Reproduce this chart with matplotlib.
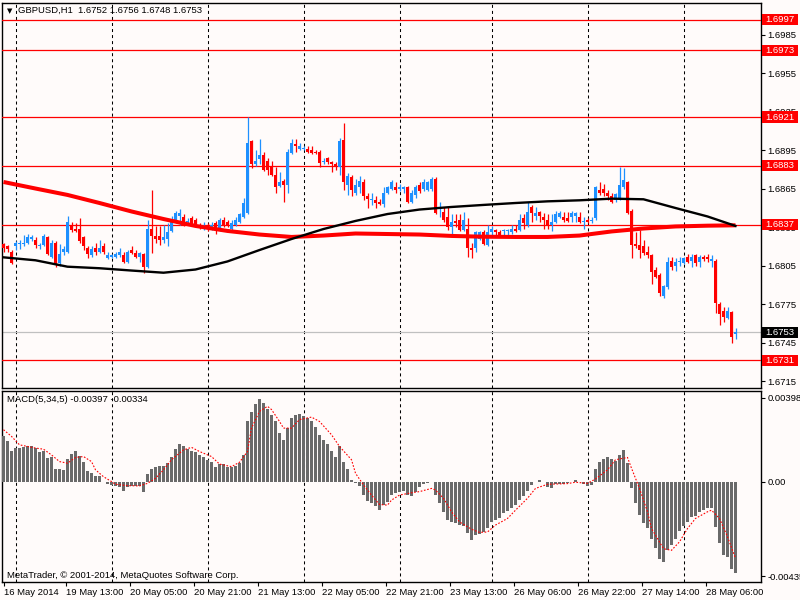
import matplotlib
matplotlib.use('Agg')
import matplotlib.pyplot as plt
from matplotlib.patches import Rectangle
from matplotlib.transforms import blended_transform_factory
import numpy as np

plt.rcParams['font.family'] = ['Liberation Sans', 'DejaVu Sans']

# GBPUSD H1 candles, one per hour (bar index 0 = 16 May 2014)
opens = [
    1.6822, 1.6820, 1.6816, 1.6820, 1.6822, 1.6822, 1.6823, 1.6826, 1.6825, 1.6820,
    1.6821, 1.6827, 1.6812, 1.6823, 1.6807, 1.6816, 1.6816, 1.6837, 1.6834, 1.6834,
    1.6827, 1.6819, 1.6813, 1.6819, 1.6816, 1.6820, 1.6811, 1.6812, 1.6812, 1.6813,
    1.6813, 1.6808, 1.6817, 1.6815, 1.6812, 1.6814, 1.6804, 1.6834, 1.6828, 1.6828,
    1.6825, 1.6826, 1.6832, 1.6839, 1.6844, 1.6843, 1.6839, 1.6842, 1.6841, 1.6837,
    1.6834, 1.6837, 1.6834, 1.6838, 1.6833, 1.6841, 1.6839, 1.6834, 1.6837, 1.6839,
    1.6843, 1.6846, 1.6902, 1.6884, 1.6888, 1.6891, 1.6887, 1.6883, 1.6876, 1.6867,
    1.6871, 1.6868, 1.6893, 1.6900, 1.6896, 1.6896, 1.6896, 1.6895, 1.6894, 1.6894,
    1.6886, 1.6889, 1.6886, 1.6884, 1.6882, 1.6903, 1.6868, 1.6874, 1.6862, 1.6866,
    1.6870, 1.6859, 1.6856, 1.6856, 1.6855, 1.6853, 1.6862, 1.6865, 1.6866, 1.6865,
    1.6865, 1.6866, 1.6855, 1.6860, 1.6868, 1.6865, 1.6864, 1.6865, 1.6873, 1.6849,
    1.6847, 1.6843, 1.6835, 1.6840, 1.6841, 1.6833, 1.6834, 1.6819, 1.6819, 1.6826,
    1.6831, 1.6821, 1.6831, 1.6833, 1.6831, 1.6832, 1.6832, 1.6831, 1.6834, 1.6833,
    1.6842, 1.6837, 1.6851, 1.6844, 1.6847, 1.6843, 1.6841, 1.6837, 1.6839, 1.6843,
    1.6843, 1.6842, 1.6843, 1.6844, 1.6843, 1.6839, 1.6841, 1.6840, 1.6842, 1.6864,
    1.6865, 1.6862, 1.6859, 1.6856, 1.6857, 1.6866, 1.6870, 1.6848, 1.6822, 1.6821,
    1.6820, 1.6816, 1.6813, 1.6802, 1.6798, 1.6781, 1.6788, 1.6809, 1.6805, 1.6808,
    1.6807, 1.6812, 1.6809, 1.6813, 1.6808, 1.6812, 1.6812, 1.6809, 1.6809, 1.6775,
    1.6770, 1.6764, 1.6769, 1.6752,
]
highs = [
    1.6823, 1.6821, 1.6817, 1.6824, 1.6825, 1.6829, 1.6830, 1.6829, 1.6827, 1.6823,
    1.6830, 1.6828, 1.6825, 1.6824, 1.6822, 1.6820, 1.6844, 1.6839, 1.6838, 1.6842,
    1.6828, 1.6820, 1.6820, 1.6823, 1.6825, 1.6823, 1.6816, 1.6814, 1.6816, 1.6819,
    1.6816, 1.6817, 1.6820, 1.6817, 1.6816, 1.6815, 1.6841, 1.6864, 1.6836, 1.6836,
    1.6837, 1.6838, 1.6844, 1.6848, 1.6849, 1.6845, 1.6842, 1.6844, 1.6842, 1.6838,
    1.6839, 1.6838, 1.6839, 1.6840, 1.6842, 1.6843, 1.6841, 1.6841, 1.6843, 1.6846,
    1.6858, 1.6921, 1.6903, 1.6895, 1.6904, 1.6894, 1.6889, 1.6887, 1.6882, 1.6878,
    1.6873, 1.6896, 1.6904, 1.6904, 1.6901, 1.6898, 1.6898, 1.6898, 1.6895, 1.6895,
    1.6889, 1.6890, 1.6887, 1.6886, 1.6905, 1.6916, 1.6877, 1.6876, 1.6873, 1.6875,
    1.6873, 1.6862, 1.6862, 1.6859, 1.6857, 1.6866, 1.6867, 1.6872, 1.6870, 1.6869,
    1.6867, 1.6867, 1.6864, 1.6868, 1.6870, 1.6873, 1.6871, 1.6874, 1.6874, 1.6855,
    1.6851, 1.6851, 1.6845, 1.6845, 1.6845, 1.6847, 1.6842, 1.6823, 1.6832, 1.6832,
    1.6833, 1.6837, 1.6836, 1.6834, 1.6833, 1.6834, 1.6834, 1.6837, 1.6837, 1.6845,
    1.6845, 1.6855, 1.6852, 1.6851, 1.6848, 1.6846, 1.6845, 1.6845, 1.6848, 1.6848,
    1.6847, 1.6847, 1.6848, 1.6847, 1.6847, 1.6843, 1.6842, 1.6843, 1.6867, 1.6870,
    1.6869, 1.6864, 1.6862, 1.6862, 1.6882, 1.6881, 1.6871, 1.6849, 1.6831, 1.6833,
    1.6825, 1.6820, 1.6814, 1.6804, 1.6799, 1.6790, 1.6812, 1.6812, 1.6811, 1.6812,
    1.6812, 1.6814, 1.6814, 1.6814, 1.6813, 1.6813, 1.6814, 1.6813, 1.6810, 1.6777,
    1.6773, 1.6773, 1.6770, 1.6756,
]
lows = [
    1.6816, 1.6816, 1.6806, 1.6817, 1.6818, 1.6820, 1.6822, 1.6824, 1.6819, 1.6818,
    1.6820, 1.6813, 1.6811, 1.6804, 1.6805, 1.6813, 1.6815, 1.6831, 1.6831, 1.6823,
    1.6817, 1.6811, 1.6812, 1.6813, 1.6815, 1.6814, 1.6810, 1.6811, 1.6811, 1.6812,
    1.6807, 1.6807, 1.6814, 1.6811, 1.6808, 1.6799, 1.6803, 1.6815, 1.6823, 1.6821,
    1.6823, 1.6820, 1.6831, 1.6838, 1.6837, 1.6836, 1.6837, 1.6836, 1.6835, 1.6834,
    1.6833, 1.6832, 1.6833, 1.6830, 1.6832, 1.6835, 1.6835, 1.6833, 1.6836, 1.6838,
    1.6842, 1.6845, 1.6881, 1.6883, 1.6884, 1.6879, 1.6876, 1.6875, 1.6862, 1.6866,
    1.6855, 1.6862, 1.6892, 1.6894, 1.6895, 1.6895, 1.6893, 1.6892, 1.6892, 1.6882,
    1.6884, 1.6884, 1.6878, 1.6880, 1.6876, 1.6864, 1.6860, 1.6859, 1.6860, 1.6862,
    1.6856, 1.6850, 1.6852, 1.6850, 1.6852, 1.6851, 1.6861, 1.6864, 1.6862, 1.6863,
    1.6862, 1.6854, 1.6854, 1.6858, 1.6862, 1.6863, 1.6863, 1.6863, 1.6845, 1.6843,
    1.6839, 1.6833, 1.6827, 1.6835, 1.6832, 1.6832, 1.6812, 1.6811, 1.6816, 1.6825,
    1.6821, 1.6820, 1.6829, 1.6829, 1.6827, 1.6829, 1.6829, 1.6830, 1.6831, 1.6832,
    1.6834, 1.6835, 1.6839, 1.6841, 1.6839, 1.6834, 1.6834, 1.6832, 1.6838, 1.6842,
    1.6839, 1.6839, 1.6839, 1.6839, 1.6838, 1.6834, 1.6838, 1.6838, 1.6841, 1.6860,
    1.6859, 1.6856, 1.6854, 1.6855, 1.6856, 1.6865, 1.6845, 1.6811, 1.6819, 1.6811,
    1.6813, 1.6811, 1.6791, 1.6795, 1.6781, 1.6780, 1.6787, 1.6802, 1.6801, 1.6805,
    1.6806, 1.6807, 1.6804, 1.6805, 1.6804, 1.6809, 1.6808, 1.6804, 1.6768, 1.6759,
    1.6761, 1.6763, 1.6745, 1.6748,
]
closes = [
    1.6819, 1.6818, 1.6807, 1.6823, 1.6823, 1.6823, 1.6827, 1.6827, 1.6821, 1.6821,
    1.6828, 1.6814, 1.6823, 1.6806, 1.6814, 1.6818, 1.6839, 1.6833, 1.6832, 1.6824,
    1.6820, 1.6814, 1.6818, 1.6816, 1.6819, 1.6816, 1.6813, 1.6813, 1.6814, 1.6816,
    1.6808, 1.6816, 1.6815, 1.6812, 1.6815, 1.6804, 1.6834, 1.6828, 1.6826, 1.6825,
    1.6827, 1.6831, 1.6841, 1.6846, 1.6846, 1.6837, 1.6840, 1.6837, 1.6837, 1.6835,
    1.6837, 1.6834, 1.6837, 1.6834, 1.6841, 1.6836, 1.6837, 1.6838, 1.6841, 1.6845,
    1.6854, 1.6901, 1.6884, 1.6887, 1.6891, 1.6880, 1.6880, 1.6876, 1.6866, 1.6870,
    1.6868, 1.6894, 1.6901, 1.6898, 1.6898, 1.6897, 1.6894, 1.6893, 1.6893, 1.6885,
    1.6887, 1.6886, 1.6884, 1.6882, 1.6902, 1.6870, 1.6875, 1.6864, 1.6868, 1.6871,
    1.6859, 1.6857, 1.6857, 1.6854, 1.6853, 1.6862, 1.6866, 1.6870, 1.6864, 1.6866,
    1.6866, 1.6855, 1.6862, 1.6866, 1.6863, 1.6870, 1.6870, 1.6873, 1.6846, 1.6850,
    1.6841, 1.6835, 1.6839, 1.6838, 1.6833, 1.6841, 1.6819, 1.6817, 1.6831, 1.6831,
    1.6822, 1.6831, 1.6834, 1.6831, 1.6828, 1.6833, 1.6833, 1.6834, 1.6832, 1.6841,
    1.6838, 1.6847, 1.6846, 1.6846, 1.6844, 1.6841, 1.6837, 1.6839, 1.6845, 1.6846,
    1.6841, 1.6840, 1.6846, 1.6846, 1.6839, 1.6840, 1.6839, 1.6841, 1.6866, 1.6862,
    1.6862, 1.6859, 1.6855, 1.6861, 1.6868, 1.6872, 1.6846, 1.6821, 1.6820, 1.6817,
    1.6815, 1.6813, 1.6800, 1.6796, 1.6784, 1.6789, 1.6808, 1.6804, 1.6808, 1.6809,
    1.6811, 1.6808, 1.6812, 1.6807, 1.6812, 1.6810, 1.6810, 1.6810, 1.6776, 1.6767,
    1.6765, 1.6770, 1.6749, 1.6753,
]

# moving averages read every 8 bars
ma_bars = [0, 8, 16, 24, 32, 40, 48, 56, 64, 72, 80, 88, 96, 104, 112, 120,
           128, 136, 144, 152, 160, 168, 176, 183]
ma_red = [1.68703, 1.68652, 1.68602, 1.68539, 1.68473, 1.68414, 1.68360, 1.68321,
          1.68293, 1.68274, 1.68285, 1.68301, 1.68297, 1.68293, 1.68282, 1.68276,
          1.68274, 1.68274, 1.68285, 1.68317, 1.68340, 1.68356, 1.68362, 1.68365]
ma_black = [1.68115, 1.68092, 1.68042, 1.68030, 1.68012, 1.67995, 1.68020, 1.68083,
            1.68172, 1.68258, 1.68336, 1.68399, 1.68453, 1.68488, 1.68508, 1.68524,
            1.68539, 1.68552, 1.68560, 1.68573, 1.68568, 1.68500, 1.68434, 1.68360]

levels = [1.6997, 1.6973, 1.6921, 1.6883, 1.6837, 1.6731]
bid = 1.6753
price_ticks = [1.6985, 1.6955, 1.6925, 1.6895, 1.6865, 1.6835, 1.6805, 1.6775, 1.6745, 1.6715]

# MACD(5,34,5) histogram and signal
macd = [
    0.00198, 0.00176, 0.00132, 0.00147, 0.00147, 0.00151, 0.00157, 0.00157, 0.00147, 0.00128,
    0.00136, 0.00103, 0.00106, 0.00056, 0.00056, 0.00052, 0.00100, 0.00122, 0.00132, 0.00113,
    0.00088, 0.00047, 0.00037, 0.00027, 0.00027, 0.00001, -0.00011, -0.00014, -0.00018, -0.00021,
    -0.00039, -0.00021, -0.00018, -0.00018, -0.00018, -0.00043, 0.00033, 0.00056, 0.00063, 0.00069,
    0.00069, 0.00081, 0.00110, 0.00144, 0.00166, 0.00154, 0.00144, 0.00136, 0.00128, 0.00115,
    0.00106, 0.00096, 0.00085, 0.00066, 0.00077, 0.00077, 0.00066, 0.00063, 0.00069, 0.00081,
    0.00117, 0.00264, 0.00303, 0.00340, 0.00359, 0.00344, 0.00319, 0.00293, 0.00266, 0.00212,
    0.00183, 0.00234, 0.00278, 0.00293, 0.00296, 0.00285, 0.00278, 0.00264, 0.00239, 0.00205,
    0.00183, 0.00164, 0.00135, 0.00110, 0.00154, 0.00085, 0.00056, 0.00008, -0.00007, -0.00018,
    -0.00058, -0.00084, -0.00094, -0.00105, -0.00124, -0.00102, -0.00087, -0.00058, -0.00051, -0.00043,
    -0.00040, -0.00058, -0.00061, -0.00043, -0.00021, -0.00011, -0.00007, 0.00001, -0.00058, -0.00094,
    -0.00131, -0.00167, -0.00175, -0.00178, -0.00189, -0.00194, -0.00223, -0.00255, -0.00233, -0.00229,
    -0.00219, -0.00201, -0.00175, -0.00165, -0.00157, -0.00138, -0.00128, -0.00113, -0.00102, -0.00080,
    -0.00062, -0.00040, -0.00014, 0.00001, 0.00008, -0.00002, -0.00021, -0.00026, -0.00011, -0.00010,
    -0.00008, -0.00004, 0.00001, 0.00006, -0.00002, -0.00010, -0.00017, -0.00014, 0.00056, 0.00085,
    0.00100, 0.00106, 0.00100, 0.00091, 0.00117, 0.00139, 0.00081, -0.00026, -0.00094, -0.00146,
    -0.00179, -0.00201, -0.00251, -0.00287, -0.00338, -0.00350, -0.00299, -0.00274, -0.00251, -0.00216,
    -0.00192, -0.00175, -0.00153, -0.00148, -0.00134, -0.00124, -0.00116, -0.00116, -0.00197, -0.00267,
    -0.00321, -0.00328, -0.00379, -0.00397,
]
sig_bars = [0, 2, 4, 8, 10, 12, 14, 16, 18, 20, 22, 23, 25, 27, 28, 31, 34, 36, 38, 40,
            42, 45, 47, 49, 52, 54, 57, 59, 61, 62, 64, 66, 67, 69, 70, 72, 74, 77, 79, 82,
            84, 87, 88, 90, 92, 94, 96, 97, 99, 102, 104, 107, 108, 110, 112, 114, 117, 119,
            121, 123, 126, 128, 131, 133, 136, 138, 141, 143, 146, 148, 151, 153, 156, 157,
            159, 161, 162, 165, 167, 169, 171, 173, 176, 177, 179, 181, 183]
sig_vals = [0.00227, 0.00198, 0.00161, 0.00147, 0.00142, 0.00117, 0.00088, 0.00081, 0.00106, 0.00110,
            0.00088, 0.00052, 0.00022, 0.00001, -0.00011, -0.00017, -0.00018, -0.00007, 0.00015, 0.00052,
            0.00096, 0.00139, 0.00150, 0.00132, 0.00110, 0.00077, 0.00066, 0.00085, 0.00132, 0.00234,
            0.00307, 0.00329, 0.00315, 0.00263, 0.00234, 0.00234, 0.00271, 0.00282, 0.00263, 0.00205,
            0.00154, 0.00096, 0.00037, -0.00014, -0.00058, -0.00099, -0.00102, -0.00080, -0.00058, -0.00048,
            -0.00043, -0.00029, -0.00036, -0.00072, -0.00131, -0.00175, -0.00207, -0.00221, -0.00219, -0.00189,
            -0.00160, -0.00124, -0.00072, -0.00029, -0.00011, -0.00010, -0.00008, -0.00002, -0.00007, 0.00012,
            0.00052, 0.00096, 0.00106, 0.00059, -0.00029, -0.00131, -0.00204, -0.00292, -0.00299, -0.00262,
            -0.00204, -0.00160, -0.00131, -0.00124, -0.00160, -0.00240, -0.00334]

date_bars = [0, 16, 32, 48, 64, 80, 96, 112, 128, 144, 160, 176]
date_labels = ['16 May 2014', '19 May 13:00', '20 May 05:00', '20 May 21:00',
               '21 May 13:00', '22 May 05:00', '22 May 21:00', '23 May 13:00',
               '26 May 06:00', '26 May 22:00', '27 May 14:00', '28 May 06:00']
grid_bars = [3, 27, 51, 75, 99, 122, 146, 170]

BG = '#FFFBFA'
BULL = '#1E90FF'
BEAR = '#FF0000'
FS = 6.8
W, H = 800, 600


def rect(l, t, r, b):
    return [l / W, 1 - b / H, (r - l) / W, (b - t) / H]


fig = plt.figure(figsize=(8, 6), dpi=100, facecolor=BG)
ax = fig.add_axes(rect(2, 3, 761, 388), facecolor=BG)
axm = fig.add_axes(rect(2, 390.5, 761, 581.5), facecolor=BG)

xlim = (-0.375, 189.375)
for a in (ax, axm):
    a.set_xlim(*xlim)
    for s in a.spines.values():
        s.set_color('black')
        s.set_linewidth(1.0)
    for g in grid_bars:
        a.axvline(g, color='black', lw=0.75, ls=(0, (2.9, 2.9)), zorder=1)

# --- price pane
ax.set_ylim(1.670954, 1.700997)
idx = np.arange(len(closes))
o = np.array(opens)
c = np.array(closes)
colors = np.where(c >= o, BULL, BEAR)
ax.vlines(idx, lows, highs, colors=colors, lw=0.9, zorder=4)
body_h = np.maximum(np.abs(c - o), 0.00008)
body_mid = (o + c) / 2
ax.bar(idx, body_h, bottom=body_mid - body_h / 2, width=0.75, color=colors,
       linewidth=0, zorder=5)

ax.plot(ma_bars, ma_red, color=BEAR, lw=2.9, zorder=6, solid_capstyle='butt')
ax.plot(ma_bars, ma_black, color='black', lw=1.7, zorder=7)

ax.axhline(bid, color='#C0C0C0', lw=0.9, zorder=2)
for lv in levels:
    ax.axhline(lv, color=BEAR, lw=0.9, zorder=3)

ax.set_xticks([])
ax.yaxis.tick_right()
ax.set_yticks(price_ticks, ['%.4f' % p for p in price_ticks])
ax.tick_params(axis='y', direction='out', length=3, width=0.8, pad=1.5, labelsize=FS)

trans = blended_transform_factory(ax.transAxes, ax.transData)
bh = 11.5 / 12815
for lv, fc in [(lv, BEAR) for lv in levels] + [(bid, 'black')]:
    ax.add_patch(Rectangle((1.001, lv - bh / 2), 0.0475, bh, transform=trans,
                           facecolor=fc, edgecolor='none', clip_on=False, zorder=10))
    ax.text(1.0248, lv, '%.4f' % lv, transform=trans, color='white', fontsize=FS,
            ha='center', va='center', zorder=11, clip_on=False)

# --- MACD pane
axm.set_ylim(-0.00435, 0.00398)
axm.bar(idx, macd, width=0.75, color='#6A6A6A', linewidth=0, zorder=3)
axm.plot(sig_bars, sig_vals, color=BEAR, lw=0.8, ls=(0, (1.5, 1.5)), zorder=4)
axm.yaxis.tick_right()
axm.set_yticks([0.00367, 0.0, -0.00413], ['0.00398', '0.00', '-0.00435'])
axm.tick_params(axis='y', direction='out', length=3, width=0.8, pad=1.5, labelsize=FS)
axm.set_xticks([0] + [b - 0.5 for b in date_bars[1:]], date_labels)
axm.tick_params(axis='x', direction='out', length=3, width=0.8, pad=2, labelsize=FS)
for t in axm.get_xticklabels():
    t.set_horizontalalignment('left')

# --- captions
fig.text(7 / W, 1 - 11 / H, '\u25bc', fontsize=5, va='center', family='DejaVu Sans')
fig.text(18 / W, 1 - 10.5 / H, 'GBPUSD,H1  1.6752 1.6756 1.6748 1.6753',
         fontsize=FS, va='center')
fig.text(7 / W, 1 - 400 / H, 'MACD(5,34,5) -0.00397 -0.00334', fontsize=FS, va='center')
fig.text(7 / W, 1 - 575 / H, 'MetaTrader, \u00a9 2001-2014, MetaQuotes Software Corp.',
         fontsize=FS, va='center')

fig.savefig('out.png', dpi=100, facecolor=BG)
